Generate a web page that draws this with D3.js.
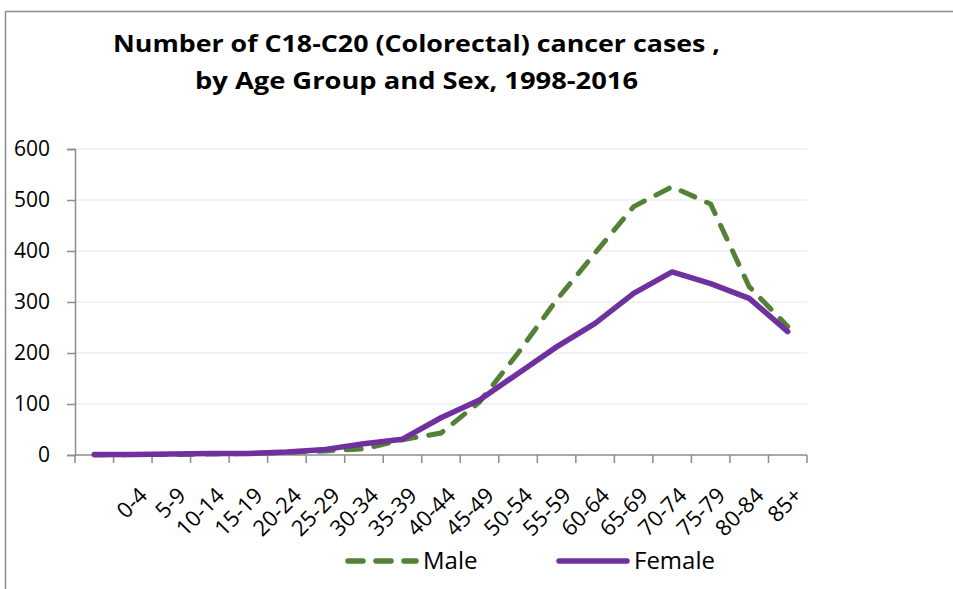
<!DOCTYPE html>
<html>
<head>
<meta charset="utf-8">
<script src="https://cdn.jsdelivr.net/npm/d3@7"></script>
<style>
  body { margin: 0; background: #fff; }
  text { font-family: "Open Sans", "Noto Sans", sans-serif; fill: #000; }
</style>
</head>
<body>
<svg id="chart"></svg>
<script>
// first slot has no label in the source chart
var ageGroups = ["", "0-4", "5-9", "10-14", "15-19", "20-24", "25-29", "30-34", "35-39",
  "40-44", "45-49", "50-54", "55-59", "60-64", "65-69", "70-74", "75-79", "80-84", "85+"];
var maleCases = [0, 1, 1, 2, 3, 5, 8, 12, 30, 43, 104, 200, 304, 396, 487, 526, 492, 330, 252];
var femaleCases = [1, 1, 2, 3, 3, 6, 11, 22, 31, 73, 108, 160, 212, 258, 317, 359, 336, 307, 242];
var yTicks = [0, 100, 200, 300, 400, 500, 600];
var titleLines = ["Number of C18-C20 (Colorectal) cancer cases ,", "by Age Group and Sex, 1998-2016"];

var width = 953;
var height = 589;
var margin = { left: 75, right: 146, top: 149, bottom: 134 };

var svg = d3.select("#chart")
  .attr("width", width)
  .attr("height", height);

// outer chart-area border (only top and left visible)
svg.append("path")
  .attr("d", "M5.5," + height + "V11.5H" + width)
  .attr("fill", "none")
  .attr("stroke", "#8c8c8c")
  .attr("stroke-width", 1.5);

// title
svg.selectAll(".title")
  .data(titleLines)
  .enter()
  .append("text")
    .classed("title", true)
    .attr("x", (d, i) => i === 0 ? 113 : 195)
    .attr("y", (d, i) => 52 + i * 37)
    .attr("textLength", (d, i) => i === 0 ? 607 : 443)
    .attr("lengthAdjust", "spacingAndGlyphs")
    .style("font-size", "24px")
    .style("font-weight", "bold")
    .text(d => d);

var x = d3.scaleBand()
  .domain(d3.range(ageGroups.length))
  .range([margin.left, width - margin.right]);

var y = d3.scaleLinear()
  .domain([0, 600])
  .range([height - margin.bottom, margin.top]);

// gridlines
svg.append("g")
  .selectAll("line")
  .data(yTicks.slice(1))
  .enter()
  .append("line")
    .attr("x1", margin.left)
    .attr("x2", width - margin.right)
    .attr("y1", d => y(d))
    .attr("y2", d => y(d))
    .attr("stroke", "#eeeeee")
    .attr("stroke-width", 1.5);

// y axis
var yAxis = svg.append("g")
  .attr("transform", "translate(" + margin.left + ",0)")
  .call(d3.axisLeft(y).tickValues(yTicks).tickSize(8).tickPadding(17));
yAxis.select(".domain").attr("stroke", "#8c8c8c").attr("stroke-width", 1.5);
yAxis.selectAll(".tick line").attr("stroke", "#8c8c8c").attr("stroke-width", 1.5);
yAxis.selectAll(".tick text")
  .style("font-size", "21px")
  .attr("font-family", null);

// x axis with ticks between categories
var xAxisG = svg.append("g")
  .attr("transform", "translate(0," + y(0) + ")");
xAxisG.append("line")
  .attr("x1", margin.left)
  .attr("x2", width - margin.right)
  .attr("stroke", "#8c8c8c")
  .attr("stroke-width", 1.5);
xAxisG.selectAll(".xtick")
  .data(d3.range(ageGroups.length + 1))
  .enter()
  .append("line")
    .classed("xtick", true)
    .attr("x1", i => margin.left + i * x.step())
    .attr("x2", i => margin.left + i * x.step())
    .attr("y1", 0)
    .attr("y2", 8)
    .attr("stroke", "#8c8c8c")
    .attr("stroke-width", 1.5);
xAxisG.selectAll(".xlabel")
  .data(ageGroups)
  .enter()
  .append("text")
    .classed("xlabel", true)
    .attr("transform", (d, i) =>
      "translate(" + (x(i) + x.bandwidth() / 2 + 5) + ",31) rotate(-45)")
    .attr("text-anchor", "end")
    .attr("dy", "0.7em")
    .style("font-size", "22px")
    .text(d => d);

var line = d3.line()
  .x((d, i) => x(i) + x.bandwidth() / 2)
  .y(d => y(d));

svg.append("path")
  .datum(maleCases)
  .attr("d", line)
  .attr("fill", "none")
  .attr("stroke", "#538135")
  .attr("stroke-width", 5)
  .attr("stroke-linecap", "round")
  .attr("stroke-dasharray", "15,13");

svg.append("path")
  .datum(femaleCases)
  .attr("d", line)
  .attr("fill", "none")
  .attr("stroke", "#7030a0")
  .attr("stroke-width", 5.5)
  .attr("stroke-linecap", "round")
  .attr("stroke-linejoin", "round");

// legend
var legendItems = [
  { name: "Male", color: "#538135", dash: "15,13", x: 348 },
  { name: "Female", color: "#7030a0", dash: null, x: 559 }
];
var legend = svg.selectAll(".legend")
  .data(legendItems)
  .enter()
  .append("g")
    .classed("legend", true)
    .attr("transform", d => "translate(" + d.x + ",561)");
legend.append("line")
  .attr("x1", 0)
  .attr("x2", 68)
  .attr("stroke", d => d.color)
  .attr("stroke-width", 5.5)
  .attr("stroke-linecap", "round")
  .attr("stroke-dasharray", d => d.dash);
legend.append("text")
  .attr("x", 75)
  .attr("dy", "0.35em")
  .style("font-size", "24px")
  .text(d => d.name);
</script>
</body>
</html>
